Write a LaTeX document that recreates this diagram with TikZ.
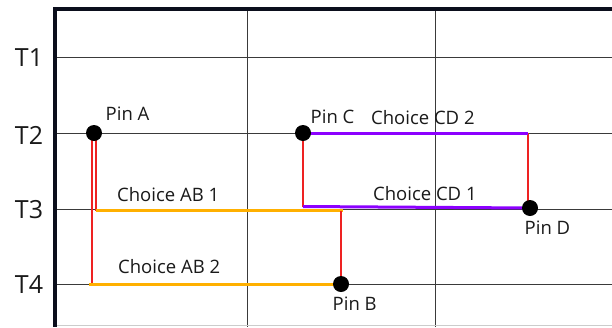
\documentclass[tikz,border=0pt]{standalone}
\usepackage{fontspec}
\setmainfont{Open Sans}
\definecolor{framecol}{HTML}{0B0E1C}
\definecolor{gridcol}{HTML}{3A3A3A}
\definecolor{textcol}{HTML}{1A1A1A}
\definecolor{wirered}{HTML}{EE2222}
\definecolor{wireorange}{HTML}{FFB000}
\definecolor{wirepurple}{HTML}{8C00FF}
\tikzset{
  gridline/.style={draw=gridcol, line width=1pt},
  frameline/.style={draw=framecol, line width=3.6pt},
  redwire/.style={draw=wirered, line width=2.7pt},
  orangewire/.style={draw=wireorange, line width=3pt},
  purplewire/.style={draw=wirepurple, line width=3pt},
  pindot/.style={circle, fill=black, minimum size=16pt, inner sep=0pt},
  tlabel/.style={text=textcol, inner sep=0pt, font=\fontsize{25}{25}\selectfont},
  lbl/.style={text=textcol, inner sep=0pt, anchor=base west, font=\fontsize{18.5}{18.5}\selectfont}
}
\begin{document}
\begin{tikzpicture}[x=1pt, y=-1pt]
\useasboundingbox (0,0) rectangle (612,327);
\fill[white] (0,0) rectangle (612,327);

% grid
\foreach \yy in {57,133,209,284} \draw[gridline] (56,\yy) -- (612,\yy);
\foreach \xx in {247,435} \draw[gridline] (\xx,9) -- (\xx,327);
\draw[draw=black!20, line width=1pt] (56,325.5) -- (612,325.5);

% frame
\draw[frameline] (612,9) -- (55,9) -- (55,327);

% row labels
\node[tlabel] (t1) at (29,57.5) {T1};
\node[tlabel] (t2) at (29,135) {T2};
\node[tlabel] (t3) at (29,209.5) {T3};
\node[tlabel] (t4) at (29,285) {T4};

% pins and corners
\coordinate (A) at (94,133);
\coordinate (B) at (341,284);
\coordinate (C) at (303,133);
\coordinate (D) at (530,208);
\coordinate (ab1L) at (96,210.5);
\coordinate (ab1R) at (341,210.5);
\coordinate (ab2L) at (89,284);
\coordinate (cd2R) at (528,133);
\coordinate (cd1L) at (303,206.5);

% routes A-B
\draw[redwire] ([xshift=-2pt]A) -- ([xshift=-2pt]A |- B);
\draw[redwire] ([xshift=2pt]A) -- (ab1L);
\draw[orangewire] (ab1L) -- ([xshift=1.5pt]ab1R);
\draw[redwire] (ab1R) -- (B);
\draw[orangewire] (ab2L) -- (B);

% routes C-D
\draw[redwire] (cd2R) -- (cd2R |- D);
\draw[purplewire] (C) -- (cd2R);
\draw[redwire] (C) -- (cd1L);
\draw[purplewire] (cd1L) -- (D);

% pin dots
\node[pindot] (pinA) at (A) {};
\node[pindot] (pinB) at (B) {};
\node[pindot] (pinC) at (C) {};
\node[pindot] (pinD) at (D) {};

% labels
\node[lbl] (lA) at (105.5,120) {Pin A};
\node[lbl] (lC) at (310.5,123.5) {Pin C};
\node[lbl] (lB) at (332.5,310) {Pin B};
\node[lbl] (lD) at (524.5,234) {Pin D};
\node[lbl] (lcd2) at (371,124) {Choice CD 2};
\node[lbl] (lcd1) at (373,200) {Choice CD 1};
\node[lbl] (lab1) at (117,201) {Choice AB 1};
\node[lbl] (lab2) at (118,273) {Choice AB 2};
\end{tikzpicture}
\end{document}
